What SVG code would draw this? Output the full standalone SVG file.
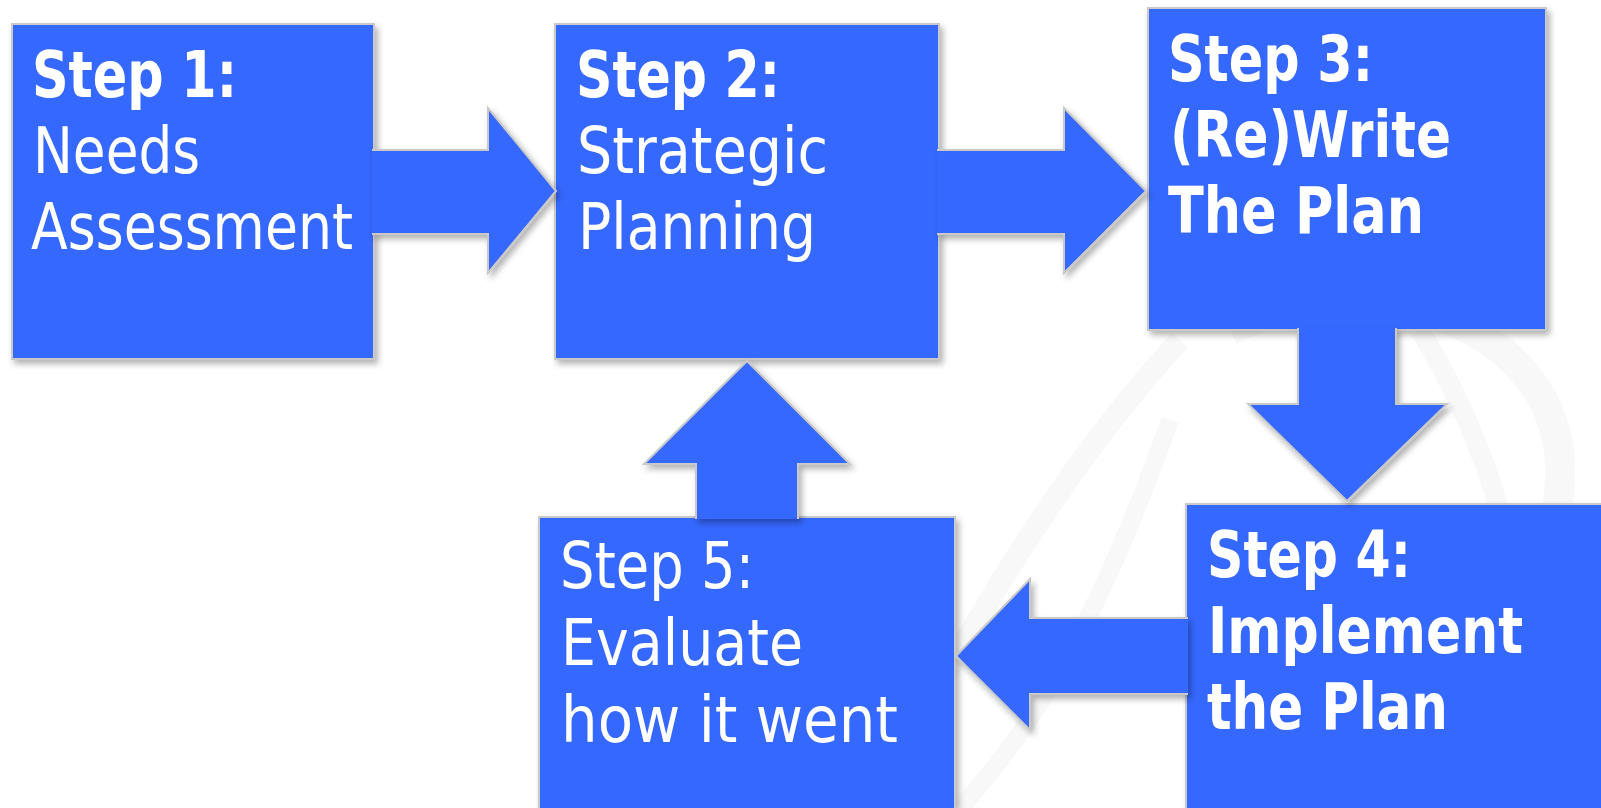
<svg xmlns="http://www.w3.org/2000/svg" width="1601" height="808" viewBox="0 0 1601 808">
<style>
.box{fill:#3667ff;stroke:#c9c9c9;stroke-width:2}
.arr{fill:#3667ff;stroke:#c9c9c9;stroke-width:2;stroke-linejoin:miter}
.t{fill:#ffffff;font-family:"DejaVu Sans","Liberation Sans",sans-serif;font-size:64px}
.b{font-weight:bold}
.wm{fill:none;stroke:#f8f8f8}
</style>
<defs>
<filter id="sh" x="-10%" y="-10%" width="130%" height="130%">
<feDropShadow dx="3" dy="4" stdDeviation="3" flood-color="#000" flood-opacity="0.3"/>
</filter>
</defs>
<rect width="1601" height="808" fill="#ffffff"/>
<g id="watermark">
<path class="wm" stroke-width="30" d="M1230 330 C1380 260 1560 330 1560 470 C1560 600 1460 660 1380 640"/>
<path class="wm" stroke-width="22" d="M880 800 C960 640 1060 470 1180 340"/>
<path class="wm" stroke-width="20" d="M1420 330 C1480 430 1520 540 1520 660"/>
<path class="wm" stroke-width="18" d="M960 808 C1060 700 1120 560 1170 420"/>
</g>
<g id="nodes">
<g id="step1" filter="url(#sh)">
<rect class="box" x="12" y="24" width="362" height="335"/>
<text class="t b" x="32" y="97" textLength="205" lengthAdjust="spacingAndGlyphs">Step 1:</text>
<text class="t" x="33" y="173" textLength="167" lengthAdjust="spacingAndGlyphs">Needs</text>
<text class="t" x="31" y="249" textLength="322" lengthAdjust="spacingAndGlyphs">Assessment</text>
</g>
<g id="step2" filter="url(#sh)">
<rect class="box" x="555" y="24" width="384" height="335"/>
<text class="t b" x="576" y="97" textLength="204" lengthAdjust="spacingAndGlyphs">Step 2:</text>
<text class="t" x="577" y="173" textLength="251" lengthAdjust="spacingAndGlyphs">Strategic</text>
<text class="t" x="578" y="249" textLength="238" lengthAdjust="spacingAndGlyphs">Planning</text>
</g>
<g id="step3" filter="url(#sh)">
<rect class="box" x="1148" y="8" width="398" height="322"/>
<text class="t b" x="1168" y="81" textLength="205" lengthAdjust="spacingAndGlyphs">Step 3:</text>
<text class="t b" x="1170" y="157" textLength="281" lengthAdjust="spacingAndGlyphs">(Re)Write</text>
<text class="t b" x="1168" y="233" textLength="256" lengthAdjust="spacingAndGlyphs">The Plan</text>
</g>
<g id="step4" filter="url(#sh)">
<rect class="box" x="1186" y="504" width="430" height="320"/>
<text class="t b" x="1207" y="577" textLength="204" lengthAdjust="spacingAndGlyphs">Step 4:</text>
<text class="t b" x="1208" y="653" textLength="315" lengthAdjust="spacingAndGlyphs">Implement</text>
<text class="t b" x="1207" y="729" textLength="241" lengthAdjust="spacingAndGlyphs">the Plan</text>
</g>
<g id="step5" filter="url(#sh)">
<rect class="box" x="539" y="517" width="416" height="310"/>
<text class="t" x="560" y="588" textLength="194" lengthAdjust="spacingAndGlyphs">Step 5:</text>
<text class="t" x="561" y="665" textLength="242" lengthAdjust="spacingAndGlyphs">Evaluate</text>
<text class="t" x="561" y="742" textLength="337" lengthAdjust="spacingAndGlyphs">how it went</text>
</g>
</g>
<g id="connectors" filter="url(#sh)">
<path class="arr" d="M372 150 L488 150 L488 108 L556 191 L488 273 L488 234 L372 234"/>
<path class="arr" d="M937 150 L1064 150 L1064 108 L1146 191 L1064 273 L1064 234 L937 234"/>
<path class="arr" d="M1298 328 L1298 404 L1248 404 L1347 501 L1447 404 L1396 404 L1396 328"/>
<path class="arr" d="M1188 618 L1030 618 L1030 579 L956 656 L1030 730 L1030 694 L1188 694"/>
<path class="arr" d="M696 519 L696 464 L644 464 L747 361 L850 464 L798 464 L798 519"/>
</g>
</svg>
